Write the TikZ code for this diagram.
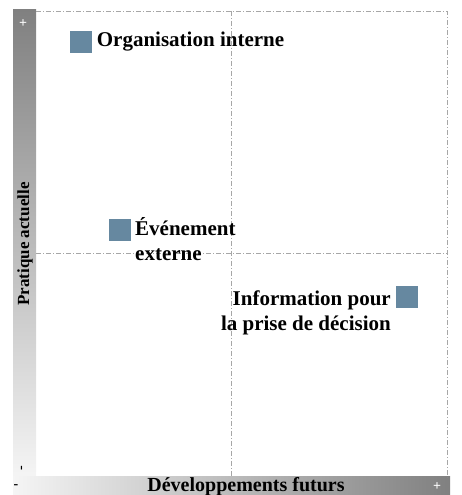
\documentclass[tikz,border=0pt]{standalone}
\usepackage{fontspec}
\setmainfont{Liberation Serif}
\usepackage{tikz}
\usetikzlibrary{positioning}

\definecolor{markblue}{RGB}{102,136,160}
\definecolor{bargray}{RGB}{128,128,128}
\definecolor{barlight}{RGB}{245,245,245}

\tikzset{
  grid line/.style={draw=gray!70, line width=0.7pt, dash pattern=on 5pt off 2pt on 1pt off 2pt},
  marker/.style={fill=markblue, minimum size=22pt, inner sep=0},
  item/.style={font=\fontsize{21}{25}\selectfont\bfseries, inner sep=0},
  axis label/.style={font=\fontsize{20}{22}\selectfont\bfseries, inner sep=0},
  sign/.style={font=\fontsize{14}{14}\selectfont\bfseries, inner sep=0},
}

\begin{document}
\begin{tikzpicture}[x=1pt, y=1pt]
      \useasboundingbox (0,0) rectangle (461,495);
      % shaded axis bars
      \shade[top color=bargray, bottom color=barlight] (13,18) rectangle (36,485);
      \shade[left color=barlight, right color=bargray] (13,0) rectangle (450,18);
      % frame and quadrant lines
      \coordinate (tl) at (36,484);
      \coordinate (tr) at (447,484);
      \coordinate (br) at (447,18);
      \coordinate (ml) at (36,242);
      \coordinate (mr) at (447,242);
      \coordinate (mt) at (231,484);
      \coordinate (mb) at (231,18);
      \draw[grid line] (tl) -- (tr) -- (br);
      \draw[grid line] (ml) -- (mr);
      \draw[grid line] (mt) -- (mb);
      % axis names and signs
      \node[axis label, rotate=90, font=\fontsize{17}{19}\selectfont\bfseries] (yaxis) at (25,251) {Pratique actuelle};
      \node[axis label] (xaxis) at (246,8) {Développements futurs};
      \node[sign, text=white] (yplus) at (23,471) {+};
      \node[sign, rotate=90] (yminus) at (23,27) {-};
      \node[sign] (xminus) at (16,8) {-};
      \node[sign, text=white] (xplus) at (437,8) {+};
      % items
      \node[marker] (m1) at (80.5,453) {};
      \node[item, anchor=west, right=5pt of m1] (t1) {Organisation interne};
      \node[marker] (m2) at (119.5,264.5) {};
      \node[item, anchor=north west, align=left] (t2) at (135,278) {Événement\\externe};
      \node[marker] (m3) at (406.5,198) {};
      \node[item, anchor=north east, align=right] (t3) at (391,204) {Information pour\\la prise de décision};
\end{tikzpicture}
\end{document}
